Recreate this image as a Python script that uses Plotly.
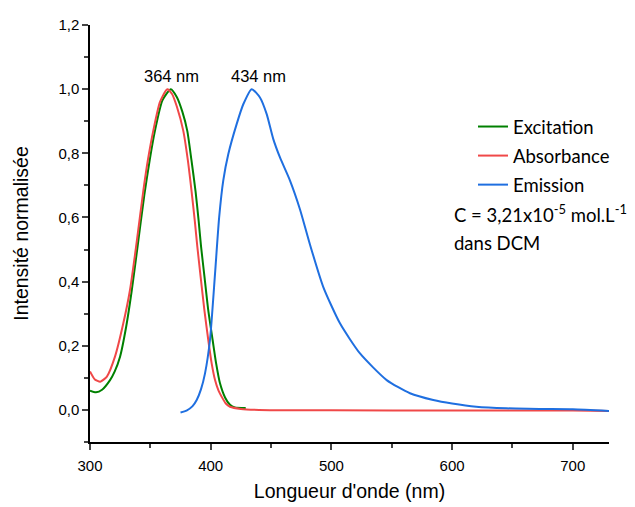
import plotly.graph_objects as go

# ---- data ----
exc_x = [300, 305, 310, 316.6, 320.5, 324.9, 330, 334.5, 339.2, 345, 349.5, 353.8, 360, 367, 372, 376.5, 380.6, 384, 387.5, 390, 392, 395, 398, 401.6, 404.5, 407.7, 412, 416, 420, 429]
exc_y = [0.060, 0.055, 0.063, 0.093, 0.120, 0.166, 0.26, 0.37, 0.503, 0.67, 0.78, 0.87, 0.965, 1.00, 0.975, 0.93, 0.87, 0.78, 0.68, 0.59, 0.51, 0.41, 0.31, 0.218, 0.145, 0.083, 0.038, 0.016, 0.008, 0.006]

abs_x = [300, 304, 308.5, 314, 320.7, 327.6, 333.1, 338.4, 344.2, 348, 352.4, 358, 364, 368, 372, 377.3, 381, 384.2, 386.8, 388.9, 391.8, 394.8, 398, 400.8, 403.6, 406.5, 409.1, 412.5, 416, 425, 440, 500, 600, 700, 730]
abs_y = [0.120, 0.095, 0.088, 0.104, 0.166, 0.27, 0.373, 0.515, 0.684, 0.78, 0.87, 0.96, 1.00, 0.985, 0.945, 0.87, 0.78, 0.68, 0.59, 0.51, 0.41, 0.31, 0.218, 0.145, 0.093, 0.060, 0.041, 0.020, 0.010, 0.003, 0.0, -0.001, -0.002, -0.002, -0.003]

emi_x = [375, 380, 385, 388.4, 392, 395.3, 399.4, 403.6, 407, 410.4, 414.6, 421.5, 427, 434, 440.8, 446.4, 451.8, 457.4, 465.7, 474, 482.3, 493.3, 507.1, 523.7, 545.8, 565.1, 584.4, 600, 620, 645, 673, 700, 730]
emi_y = [-0.008, -0.002, 0.012, 0.031, 0.065, 0.114, 0.218, 0.425, 0.60, 0.715, 0.798, 0.891, 0.953, 1.0, 0.974, 0.922, 0.845, 0.787, 0.715, 0.625, 0.515, 0.383, 0.27, 0.176, 0.093, 0.052, 0.031, 0.020, 0.010, 0.005, 0.003, 0.002, -0.003]

peak_labels = ["364 nm", "434 nm"]
peak_x = [367.7, 439.7]
peak_y = [1.04, 1.04]

x_ticks = [300, 400, 500, 600, 700]
y_ticks = [0.0, 0.2, 0.4, 0.6, 0.8, 1.0, 1.2]
y_ticktext = ["0,0", "0,2", "0,4", "0,6", "0,8", "1,0", "1,2"]

series = [
    ("Excitation", exc_x, exc_y, "#008000"),
    ("Absorbance", abs_x, abs_y, "#f04848"),
    ("Emission", emi_x, emi_y, "#1f6fe0"),
]

# page body adds an 8px offset; figure coordinates = screen - 8
OFF = 8
W, H = 635, 507
L, T = 90 - OFF, 25 - OFF
R = W - (609 - OFF)
B = H - (442 - OFF)
pw, ph = W - L - R, H - T - B


def px_x(sx):
    return (sx - OFF - L) / pw


def px_y(sy):
    return (H - B - (sy - OFF)) / ph


fig = go.Figure()
for name, xs, ys, col in series:
    fig.add_trace(go.Scatter(
        x=xs, y=ys, mode="lines", name=name, legendgroup=name,
        line=dict(color=col, width=2, shape="spline", smoothing=0.6),
    ))

for t, xv, yv in zip(peak_labels, peak_x, peak_y):
    fig.add_annotation(x=xv, y=yv, text=t, showarrow=False,
                       font=dict(family="Liberation Sans", size=16.5, color="black"))

fig.add_annotation(xref="paper", yref="paper", x=px_x(452), y=px_y(213),
                   xanchor="left", yanchor="middle", showarrow=False, align="left",
                   text="C = 3,21x10<sup>-5</sup> mol.L<sup>-1</sup>",
                   font=dict(family="Lato", size=18.5, color="black"))
fig.add_annotation(xref="paper", yref="paper", x=px_x(452), y=px_y(243),
                   xanchor="left", yanchor="middle", showarrow=False, align="left",
                   text="dans DCM",
                   font=dict(family="Lato", size=18.5, color="black"))

fig.update_layout(
    width=W, height=H,
    margin=dict(l=L, r=R, t=T, b=B, autoexpand=False),
    plot_bgcolor="white", paper_bgcolor="white",
    showlegend=True,
    legend=dict(x=px_x(473), y=px_y(108), xanchor="left", yanchor="top",
                bgcolor="rgba(0,0,0,0)", tracegroupgap=2,
                font=dict(family="Lato", size=18.5, color="black")),
    xaxis=dict(range=[300, 730], tickvals=x_ticks, ticks="outside", ticklen=6, tickwidth=1.5,
               showline=True, linecolor="black", linewidth=1.5, showgrid=False, zeroline=False,
               automargin=True, ticklabelstandoff=3,
               tickfont=dict(family="Liberation Sans", size=15, color="black"),
               minor=dict(dtick=50, tick0=300, ticks="outside", ticklen=4, tickwidth=1.5, showgrid=False),
               title=dict(text="Longueur d'onde (nm)", standoff=12,
                          font=dict(family="Liberation Sans", size=19.5, color="black"))),
    yaxis=dict(range=[-0.1, 1.2], tickvals=y_ticks, ticktext=y_ticktext, ticks="outside", ticklen=6,
               tickwidth=1.5, showline=True, linecolor="black", linewidth=1.5, showgrid=False, zeroline=False,
               automargin=True,
               tickfont=dict(family="Liberation Sans", size=15, color="black"),
               minor=dict(dtick=0.1, tick0=0, ticks="outside", ticklen=4, tickwidth=1.5, showgrid=False),
               title=dict(text="Intensité normalisée", standoff=25,
                          font=dict(family="Liberation Sans", size=19.5, color="black"))),
)

fig.write_html("out.html")
